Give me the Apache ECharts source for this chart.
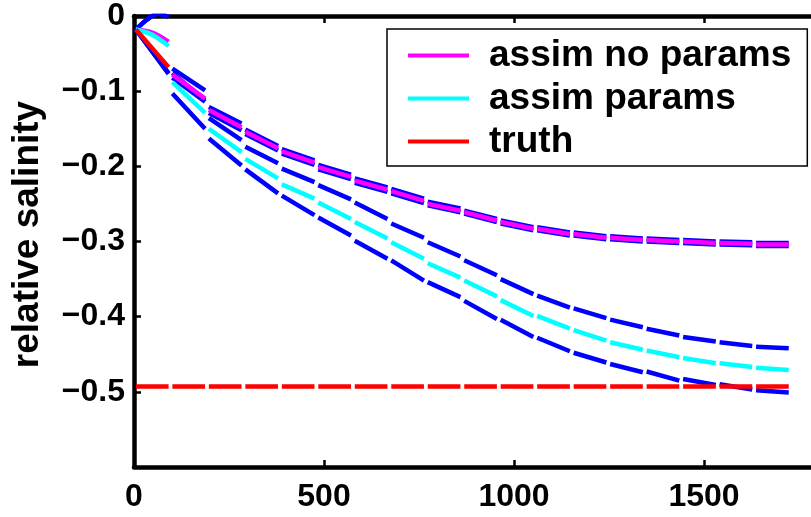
<!DOCTYPE html>
<html>
<head>
<meta charset="utf-8">
<script src="https://cdn.jsdelivr.net/npm/echarts@6/dist/echarts.min.js"></script>
<style>
  html, body { margin: 0; padding: 0; background: #fff; }
  #chart { width: 811px; height: 517px; }
</style>
</head>
<body>
<div id="chart"></div>
<script>
// assimilation cycles are 96 time units long, 18 of them
const cycleLength = 96;
const xTicks = [0, 500, 1000, 1500];
const yTickLabels = ['0', '\u22120.1', '\u22120.2', '\u22120.3', '\u22120.4', '\u22120.5'];

// each inner array: readings evenly spread over one cycle
const noParams = [
    [-0.018, -0.022, -0.034], [-0.078, -0.110], [-0.125, -0.148], [-0.154, -0.176],
    [-0.180, -0.195], [-0.201, -0.214], [-0.219, -0.231], [-0.233, -0.246],
    [-0.250, -0.259], [-0.261, -0.272], [-0.274, -0.283], [-0.283, -0.290],
    [-0.290, -0.295], [-0.295, -0.298], [-0.298, -0.300], [-0.300, -0.302],
    [-0.302, -0.303], [-0.304, -0.304],
];
const noParamsUpper = [
    [-0.018, -0.005, 0.003, -0.001], [-0.070, -0.099], [-0.121, -0.143], [-0.151, -0.173],
    [-0.177, -0.192], [-0.198, -0.211], [-0.216, -0.228], [-0.230, -0.243],
    [-0.247, -0.256], [-0.259, -0.270], [-0.272, -0.281], [-0.281, -0.288],
    [-0.288, -0.293], [-0.293, -0.296], [-0.296, -0.298], [-0.298, -0.300],
    [-0.300, -0.301], [-0.302, -0.302],
];
const noParamsLower = [
    [-0.018, -0.076], [-0.082, -0.114], [-0.129, -0.152], [-0.157, -0.179],
    [-0.183, -0.198], [-0.204, -0.217], [-0.222, -0.234], [-0.236, -0.249],
    [-0.252, -0.261], [-0.263, -0.274], [-0.276, -0.285], [-0.285, -0.292],
    [-0.292, -0.297], [-0.297, -0.300], [-0.300, -0.302], [-0.302, -0.304],
    [-0.304, -0.305], [-0.306, -0.306],
];
const withParams = [
    [-0.018, -0.025, -0.040], [-0.088, -0.129], [-0.150, -0.181], [-0.190, -0.216],
    [-0.224, -0.243], [-0.248, -0.270], [-0.274, -0.296], [-0.301, -0.323],
    [-0.329, -0.348], [-0.352, -0.373], [-0.378, -0.399], [-0.399, -0.416],
    [-0.418, -0.432], [-0.434, -0.444], [-0.445, -0.454], [-0.455, -0.462],
    [-0.462, -0.467], [-0.468, -0.471],
];
const withParamsUpper = [
    [-0.018, -0.005, 0.003, -0.001], [-0.076, -0.112], [-0.136, -0.165], [-0.174, -0.196],
    [-0.203, -0.221], [-0.225, -0.244], [-0.248, -0.270], [-0.276, -0.295],
    [-0.301, -0.320], [-0.325, -0.345], [-0.350, -0.370], [-0.372, -0.388],
    [-0.389, -0.402], [-0.404, -0.414], [-0.416, -0.425], [-0.427, -0.433],
    [-0.434, -0.439], [-0.440, -0.442],
];
const withParamsLower = [
    [-0.018, -0.077], [-0.103, -0.150], [-0.163, -0.199], [-0.204, -0.236],
    [-0.239, -0.265], [-0.268, -0.292], [-0.299, -0.323], [-0.325, -0.352],
    [-0.354, -0.374], [-0.379, -0.403], [-0.404, -0.427], [-0.428, -0.446],
    [-0.448, -0.461], [-0.463, -0.474], [-0.473, -0.485], [-0.483, -0.491],
    [-0.490, -0.497], [-0.498, -0.501],
];
const truth = [
    [-0.493, -0.493], [-0.493, -0.493], [-0.493, -0.493], [-0.493, -0.493],
    [-0.493, -0.493], [-0.493, -0.493], [-0.493, -0.493], [-0.493, -0.493],
    [-0.493, -0.493], [-0.493, -0.493], [-0.493, -0.493], [-0.493, -0.493],
    [-0.493, -0.493], [-0.493, -0.493], [-0.493, -0.493], [-0.493, -0.493],
    [-0.493, -0.493], [-0.493, -0.493],
];
const truthSpinup = [[-0.018, -0.068]];

const font = "'Liberation Sans', Arial, Helvetica, sans-serif";
const BLUE = '#0000ff';

// one solid piece per cycle, with a short break at every cycle boundary
function toSegments(cycles) {
    const inset = 5;
    const pts = [];
    cycles.forEach((vals, k) => {
        const x0 = k * cycleLength + inset;
        const span = cycleLength - 2 * inset;
        vals.forEach((v, i) => pts.push([x0 + span * i / (vals.length - 1), v]));
        pts.push([(k + 1) * cycleLength, '-']);
    });
    return pts;
}

function lineSeries(name, cycles, color) {
    return {
        name: name,
        type: 'line',
        data: toSegments(cycles),
        showSymbol: false,
        smooth: 0.3,
        connectNulls: false,
        color: color,
        itemStyle: {color: color},
        lineStyle: {color: color, width: 4.5, cap: 'butt'},
        emphasis: {disabled: true},
        animation: false,
    };
}

const chart = echarts.init(document.getElementById('chart'), null, {renderer: 'canvas'});

const axisFont = {fontFamily: font, fontSize: 32, fontWeight: 'bold', color: '#000'};

const option = {
    animation: false,
    backgroundColor: '#fff',
    grid: {left: 134, top: 16, bottom: 50, right: -83, containLabel: false, outerBoundsMode: 'none'},
    xAxis: [{
        type: 'value',
        min: 0,
        max: 2000,
        interval: 500,
        splitLine: {show: false},
        axisLine: {show: true, onZero: false, lineStyle: {color: '#000', width: 4.5}},
        axisTick: {show: true, inside: true, length: 7, lineStyle: {color: '#000', width: 2.5}},
        axisLabel: {
            ...axisFont,
            margin: 14,
            formatter: v => xTicks.includes(v) ? String(v) : '',
        },
    }, {
        type: 'value',
        position: 'top',
        min: 0,
        max: 2000,
        interval: 500,
        splitLine: {show: false},
        axisLine: {show: true, onZero: false, lineStyle: {color: '#000', width: 4.5}},
        axisTick: {show: true, inside: true, length: 7, lineStyle: {color: '#000', width: 2.5}},
        axisLabel: {show: false},
    }],
    yAxis: {
        type: 'value',
        min: -0.6,
        max: 0,
        interval: 0.1,
        splitLine: {show: false},
        axisLine: {show: true, onZero: false, lineStyle: {color: '#000', width: 4.5}},
        axisTick: {show: true, inside: true, length: 7, lineStyle: {color: '#000', width: 2.5}},
        axisLabel: {
            ...axisFont,
            margin: 9,
            formatter: v => yTickLabels[Math.round(-v * 10)] || '',
        },
        name: 'relative salinity',
        nameLocation: 'middle',
        nameGap: 88,
        nameRotate: 90,
        nameTextStyle: {fontFamily: font, fontSize: 37, fontWeight: 'bold', color: '#000', padding: [0, 0, 0, 14]},
    },
    legend: {
        data: ['assim no params', 'assim params', 'truth'],
        orient: 'vertical',
        left: 387,
        top: 29,
        icon: 'rect',
        itemWidth: 61,
        itemHeight: 4,
        itemGap: 0,
        padding: [5, 16, 3, 21],
        borderColor: '#000',
        borderWidth: 1.5,
        borderRadius: 0,
        backgroundColor: '#fff',
        selectedMode: false,
        itemStyle: {borderWidth: 0},
        textStyle: {
            fontFamily: font, fontSize: 37, fontWeight: 'bold', color: '#000',
            lineHeight: 43, padding: [0, 0, 0, 15],
        },
    },
    series: [
        lineSeries('upper no params', noParamsUpper, BLUE),
        lineSeries('lower no params', noParamsLower, BLUE),
        lineSeries('upper params', withParamsUpper, BLUE),
        lineSeries('lower params', withParamsLower, BLUE),
        lineSeries('assim no params', noParams, '#ff00ff'),
        lineSeries('assim params', withParams, '#00ffff'),
        lineSeries('truth spinup', truthSpinup, '#ff0000'),
        lineSeries('truth', truth, '#ff0000'),
    ],
};

chart.setOption(option);
</script>
</body>
</html>
